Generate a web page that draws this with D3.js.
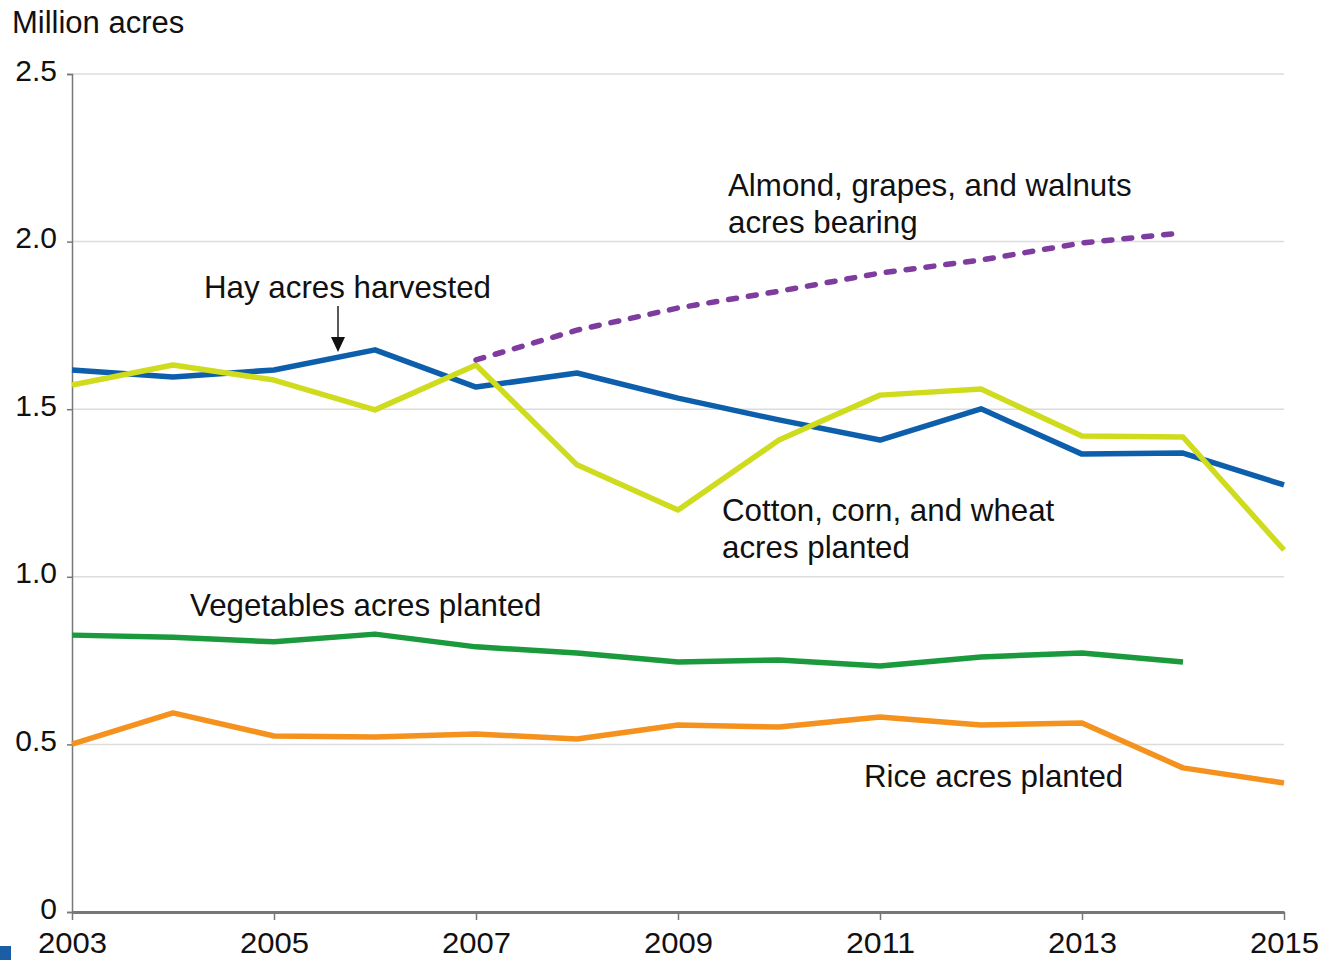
<!DOCTYPE html>
<html><head><meta charset="utf-8">
<script src="https://cdn.jsdelivr.net/npm/d3@7"></script>
<style>html,body{margin:0;padding:0;background:#fff;}svg{display:block;font-family:"Liberation Sans",Arial,Helvetica,sans-serif;}</style>
</head><body>
<svg id="chart" width="1326" height="960"></svg>
<script>
const years = [2003,2004,2005,2006,2007,2008,2009,2010,2011,2012,2013,2014,2015];
const hay = [1.617,1.596,1.617,1.677,1.566,1.608,1.533,1.468,1.408,1.501,1.366,1.369,1.274];
const cottonCornWheat = [1.572,1.632,1.587,1.498,1.632,1.334,1.199,1.408,1.542,1.560,1.420,1.417,1.080];
const almondYears = [2007,2008,2009,2010,2011,2012,2013,2014];
const almondGrapesWalnuts = [1.647,1.736,1.802,1.852,1.906,1.945,1.996,2.026];
const vegYears = [2003,2004,2005,2006,2007,2008,2009,2010,2011,2012,2013,2014];
const vegetables = [0.826,0.820,0.806,0.829,0.791,0.773,0.746,0.752,0.734,0.761,0.773,0.746];
const rice = [0.501,0.594,0.525,0.522,0.531,0.516,0.558,0.552,0.582,0.558,0.564,0.430,0.385];
const yTicks = [0,0.5,1.0,1.5,2.0,2.5];
const xTicks = [2003,2005,2007,2009,2011,2013,2015];
const yTitle = "Million acres";

const svg = d3.select("#chart");
const x = d3.scaleLinear().domain([2003,2015]).range([72,1284]);
const y = d3.scaleLinear().domain([0,2.5]).range([912,74]);

// gridlines
svg.append("g").selectAll("line").data(yTicks.filter(d=>d>0)).join("line")
  .attr("x1",72).attr("x2",1284).attr("y1",d=>y(d)).attr("y2",d=>y(d))
  .attr("stroke","#dcdcdc").attr("stroke-width",1.5);

// y axis
const yAxis = svg.append("g").attr("transform","translate(72,0)")
  .call(d3.axisLeft(y).tickValues(yTicks).tickFormat(d=>d===0?"0":d.toFixed(1)).tickSize(5).tickPadding(10));
yAxis.select(".domain").attr("stroke","#777").attr("stroke-width",1.5);
yAxis.selectAll(".tick line").attr("stroke","#777").attr("stroke-width",1.5);
yAxis.selectAll("text").attr("font-size",30).attr("fill","#111").attr("dy","0.2em");

// x axis
const xAxis = svg.append("g").attr("transform","translate(0,912)")
  .call(d3.axisBottom(x).tickValues(xTicks).tickFormat(d3.format("d")).tickSizeInner(8).tickSizeOuter(0).tickPadding(12));
xAxis.select(".domain").attr("stroke","#777").attr("stroke-width",3);
xAxis.selectAll(".tick line").attr("stroke","#777").attr("stroke-width",1.5);
xAxis.selectAll("text").attr("font-size",30).attr("fill","#111")
  .attr("textLength",69).attr("lengthAdjust","spacingAndGlyphs");

// y title
svg.append("text").attr("x",12).attr("y",33).attr("font-size",31).attr("fill","#111").text(yTitle);

const line = d3.line().x(d=>x(d[0])).y(d=>y(d[1]));
function draw(xs, vs, color, dash){
  const p = svg.append("path").datum(xs.map((d,i)=>[d,vs[i]]))
    .attr("d",line).attr("fill","none").attr("stroke",color).attr("stroke-width",5.5)
    .attr("stroke-linejoin","round");
  if(dash) p.attr("stroke-dasharray",dash).attr("stroke-linecap","round");
  return p;
}
draw(years, rice, "#f5921e");
draw(vegYears, vegetables, "#1a9a3c");
draw(years, hay, "#0d5fac");
draw(years, cottonCornWheat, "#cfdc1d");
draw(almondYears, almondGrapesWalnuts, "#7d3c9e", "8,12");

// labels
const labels = [
  {t:"Almond, grapes, and walnuts", x:728, y:196},
  {t:"acres bearing", x:728, y:233},
  {t:"Hay acres harvested", x:204, y:298},
  {t:"Cotton, corn, and wheat", x:722, y:521},
  {t:"acres planted", x:722, y:558},
  {t:"Vegetables acres planted", x:190, y:616},
  {t:"Rice acres planted", x:864, y:787}
];
svg.append("g").selectAll("text").data(labels).join("text")
  .attr("x",d=>d.x).attr("y",d=>d.y).attr("font-size",31.3).attr("fill","#111").text(d=>d.t);

// arrow
svg.append("line").attr("x1",338).attr("x2",338).attr("y1",306).attr("y2",340)
  .attr("stroke","#222").attr("stroke-width",1.5);
svg.append("path").attr("d","M331,337 L345,337 L338,352 Z").attr("fill","#111");

// corner mark
svg.append("rect").attr("x",0).attr("y",946).attr("width",11).attr("height",14).attr("fill","#1c5ea6");
</script>
</body></html>
